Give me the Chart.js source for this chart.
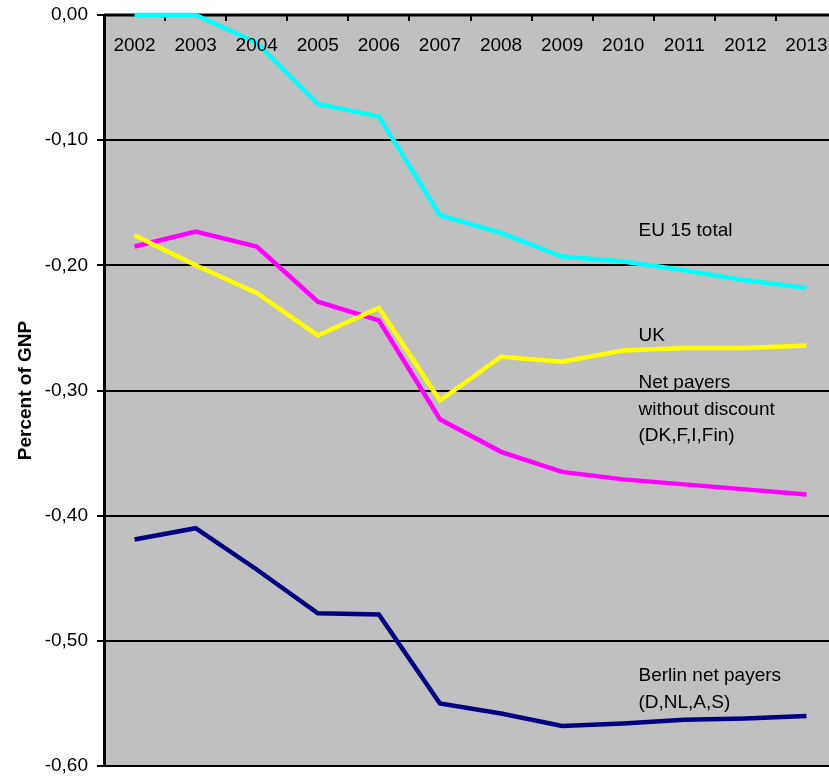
<!DOCTYPE html>
<html>
<head>
<meta charset="utf-8">
<script src="https://cdn.jsdelivr.net/npm/chart.js@4/dist/chart.umd.min.js"></script>
<style>
  html, body { margin: 0; padding: 0; background: #fff; overflow: hidden; }
  #wrap { width: 840px; height: 782px; }
</style>
</head>
<body>
<div id="wrap"><canvas id="chart" width="840" height="782"></canvas></div>
<script>
// data
const years = ['2002','2003','2004','2005','2006','2007','2008','2009','2010','2011','2012','2013'];
const eu15Total = [0.000, 0.000, -0.022, -0.071, -0.081, -0.160, -0.174, -0.193, -0.197, -0.204, -0.212, -0.218];
const ukValues = [-0.176, -0.200, -0.222, -0.256, -0.234, -0.308, -0.273, -0.277, -0.268, -0.266, -0.266, -0.264];
const netPayersNoDiscount = [-0.185, -0.173, -0.185, -0.229, -0.244, -0.323, -0.349, -0.365, -0.371, -0.375, -0.379, -0.383];
const berlinNetPayers = [-0.419, -0.410, -0.443, -0.478, -0.479, -0.550, -0.558, -0.568, -0.566, -0.563, -0.562, -0.560];
const yTicks = [0, -0.1, -0.2, -0.3, -0.4, -0.5, -0.6];

// text labels next to the lines (anchor: category index, value)
const notes = [
  { lines: ['EU 15 total'], x: 8.25, y: -0.1726 },
  { lines: ['UK'], x: 8.25, y: -0.256 },
  { lines: ['Net payers', 'without discount', '(DK,F,I,Fin)'], x: 8.25, y: -0.294 },
  { lines: ['Berlin net payers', '(D,NL,A,S)'], x: 8.25, y: -0.528 }
];

const FONT = '"Liberation Sans", Arial, sans-serif';

const excelLook = {
  id: 'excelLook',
  beforeDraw(chart) {
    const { ctx, chartArea: a } = chart;
    ctx.save();
    ctx.fillStyle = '#C0C0C0';
    ctx.fillRect(a.left, a.top, a.right - a.left, a.bottom - a.top);
    ctx.restore();
  },
  beforeDatasetsDraw(chart) {
    const { ctx, chartArea: a, scales: { x } } = chart;
    ctx.save();
    // top axis line + inward ticks between categories
    ctx.strokeStyle = '#000';
    ctx.lineWidth = 3;
    ctx.beginPath();
    ctx.moveTo(a.left, a.top);
    ctx.lineTo(a.right, a.top);
    ctx.stroke();
    ctx.lineWidth = 2;
    for (let i = 1; i < years.length; i++) {
      const px = Math.round(x.getPixelForValue(i - 0.5));
      ctx.beginPath();
      ctx.moveTo(px, a.top);
      ctx.lineTo(px, a.top + 6);
      ctx.stroke();
    }
    ctx.restore();
  },
  afterDatasetsDraw(chart) {
    const { ctx, chartArea: a, scales: { x, y } } = chart;
    ctx.save();
    // category labels inside the plot
    ctx.fillStyle = '#000';
    ctx.font = '19px ' + FONT;
    ctx.textAlign = 'center';
    ctx.textBaseline = 'middle';
    years.forEach((yr, i) => ctx.fillText(yr, x.getPixelForValue(i), a.top + 31));
    // notes
    ctx.textAlign = 'left';
    notes.forEach(n => {
      const px = x.getPixelForValue(n.x);
      const py = y.getPixelForValue(n.y);
      n.lines.forEach((t, k) => ctx.fillText(t, px, py + k * 26.5));
    });
    ctx.restore();
  }
};

const mk = (label, data, color) => ({
  label, data,
  borderColor: color,
  backgroundColor: color,
  borderWidth: 4.5,
  pointRadius: 0,
  tension: 0,
  fill: false,
  clip: 6
});

new Chart(document.getElementById('chart'), {
  type: 'line',
  data: {
    labels: years,
    datasets: [
      mk('EU 15 total', eu15Total, '#00FFFF'),
      mk('UK', ukValues, '#FFFF00'),
      mk('Net payers without discount (DK,F,I,Fin)', netPayersNoDiscount, '#FF00FF'),
      mk('Berlin net payers (D,NL,A,S)', berlinNetPayers, '#000080')
    ]
  },
  options: {
    responsive: false,
    animation: false,
    layout: { autoPadding: false, padding: { top: 15, bottom: 16, right: 3, left: 0 } },
    plugins: {
      legend: { display: false },
      tooltip: { enabled: false }
    },
    scales: {
      x: {
        type: 'category',
        offset: true,
        display: false
      },
      y: {
        min: -0.6,
        max: 0,
        afterFit: s => {
          s.width = 104;
          s.paddingTop = 0;
          s.paddingBottom = 0;
        },
        afterBuildTicks: s => { s.ticks = yTicks.map(v => ({ value: v })); },
        ticks: {
          color: '#000',
          font: { family: FONT, size: 19 },
          padding: 9,
          callback: v => v.toFixed(2).replace('.', ',')
        },
        grid: {
          color: '#000',
          lineWidth: 2,
          tickLength: 7,
          tickColor: '#000'
        },
        border: { color: '#000', width: 3 },
        title: {
          display: true,
          text: 'Percent of GNP',
          color: '#000',
          font: { family: FONT, size: 19, weight: 'bold' },
          padding: { top: 14, bottom: 0 }
        }
      }
    }
  },
  plugins: [excelLook]
});
</script>
</body>
</html>
